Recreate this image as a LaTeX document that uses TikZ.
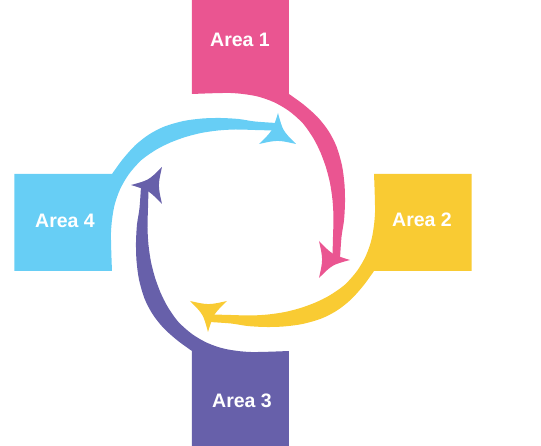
\documentclass[tikz,border=0pt]{standalone}
\usepackage{fontspec}
\setmainfont{Liberation Sans}
\definecolor{cpink}{HTML}{EA5591}
\definecolor{cyellow}{HTML}{F9CB33}
\definecolor{cblue}{HTML}{67CEF5}
\definecolor{cpurple}{HTML}{6760AA}
\newcommand{\myarm}[1]{%
  \fill[#1] (-48.5,226) -- (48.5,226) --
    plot[smooth] coordinates {(48.5,128.5) (63,118) (77,105.5) (88,91.5) (96,76) (101.5,57) (104,38) (104.5,20) (103.5,2) (101,-14.5) (99.5,-36)}
    -- plot[smooth] coordinates {(92,-33) (92.5,-14.5) (93,5) (92,22.5) (89.5,39.5) (85.5,55) (80,70) (73,84) (62.5,99) (48.5,111.5) (33,120.5) (15,126.5) (-10,129.5) (-48.5,128.5)}
    -- cycle;
  \fill[#1] (78.5,-18.5) .. controls (91.7,-32.1) .. (109.5,-37.5)
    .. controls (91.7,-42.3) .. (78.5,-55.5)
    .. controls (82.6,-37.1) .. cycle;
}
\tikzset{lbl/.style={text=white, font=\fontsize{19.5}{23}\selectfont\bfseries, inner sep=0pt}}
\begin{document}
\begin{tikzpicture}[x=1pt,y=1pt]
\useasboundingbox (-240.5,-223.5) rectangle (300.5,222.5);
\myarm{cpink}
\begin{scope}[xshift=5pt,rotate=-90]
\myarm{cyellow}
\end{scope}
\begin{scope}[rotate=180]
\myarm{cpurple}
\end{scope}
\begin{scope}[rotate=90]
\myarm{cblue}
\end{scope}
\node[lbl] (a1) at (-0.5,182.5) {Area 1};
\node[lbl] (a2) at (181.5,2.5) {Area 2};
\node[lbl] (a3) at (1.5,-178.5) {Area 3};
\node[lbl] (a4) at (-175.5,1.5) {Area 4};
\end{tikzpicture}
\end{document}
